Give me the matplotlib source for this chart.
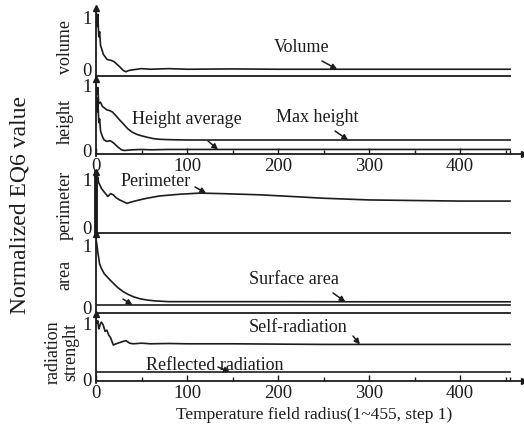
import matplotlib.pyplot as plt
import matplotlib.transforms as mtransforms

plt.rcParams['font.family'] = ['Liberation Serif', 'DejaVu Serif']

# radius samples and normalized values for every curve
vol_x = [0, 1, 2, 3, 4, 5, 6, 8, 10, 12, 14, 17, 20, 23, 26, 30, 33, 36, 40, 45,
         50, 60, 80, 100, 150, 200, 250, 300, 350, 400, 455]
vol_y = [1.0, 0.78, 0.98, 0.62, 0.70, 0.48, 0.44, 0.34, 0.30, 0.26, 0.25, 0.24,
         0.22, 0.18, 0.14, 0.08, 0.06, 0.08, 0.09, 0.10, 0.11, 0.10, 0.11, 0.10,
         0.105, 0.10, 0.10, 0.10, 0.10, 0.10, 0.10]

maxh_x = [0, 1, 2, 3, 5, 7, 9, 12, 15, 18, 21, 25, 30, 35, 40, 45, 50, 56, 63,
          70, 80, 100, 150, 200, 300, 400, 455]
maxh_y = [1.0, 0.85, 0.95, 0.72, 0.74, 0.68, 0.66, 0.63, 0.62, 0.60, 0.56, 0.50,
          0.43, 0.36, 0.31, 0.28, 0.26, 0.24, 0.22, 0.21, 0.205, 0.20, 0.20,
          0.20, 0.20, 0.20, 0.20]

avgh_x = [0, 1, 2, 3, 4, 5, 7, 9, 12, 15, 17, 20, 24, 28, 31, 35, 40, 50, 60,
          80, 100, 200, 300, 400, 455]
avgh_y = [0.95, 0.60, 0.80, 0.45, 0.50, 0.33, 0.25, 0.20, 0.18, 0.19, 0.18, 0.15,
          0.10, 0.06, 0.05, 0.055, 0.06, 0.065, 0.06, 0.065, 0.065, 0.065,
          0.065, 0.065, 0.065]

per_x = [0, 1, 2, 3, 4, 6, 8, 10, 13, 16, 19, 22, 26, 30, 34, 38, 45, 56, 70, 92,
         114, 140, 180, 216, 250, 300, 350, 400, 455]
per_y = [1.0, 0.95, 0.98, 0.88, 0.85, 0.78, 0.74, 0.70, 0.64, 0.69, 0.67, 0.62,
         0.58, 0.55, 0.52, 0.54, 0.57, 0.61, 0.65, 0.68, 0.70, 0.69, 0.67, 0.64,
         0.61, 0.58, 0.57, 0.56, 0.56]

area_x = [0, 1, 2, 3, 4, 6, 9, 12, 15, 19, 24, 30, 35, 41, 48, 56, 65, 80, 100,
          200, 300, 400, 455]
area_y = [1.0, 0.92, 0.82, 0.74, 0.66, 0.60, 0.53, 0.49, 0.45, 0.40, 0.34, 0.285,
          0.25, 0.217, 0.19, 0.172, 0.16, 0.15, 0.15, 0.15, 0.148, 0.148, 0.148]
area2_x = [0, 455]
area2_y = [0.105, 0.105]

self_x = [0, 1, 2, 3, 4, 5, 6, 8, 10, 12, 14, 16, 19, 22, 26, 30, 33, 37, 41, 50,
          60, 80, 100, 150, 200, 250, 300, 400, 455]
self_y = [1.0, 0.93, 0.97, 0.84, 0.88, 0.93, 0.95, 0.90, 0.80, 0.82, 0.74, 0.70,
          0.58, 0.60, 0.62, 0.64, 0.65, 0.61, 0.60, 0.61, 0.60, 0.605, 0.60,
          0.60, 0.595, 0.59, 0.59, 0.59, 0.59]
refl_x = [0, 455]
refl_y = [0.145, 0.145]

major_ticks = [0, 100, 200, 300, 400]
minor_ticks = [50, 150, 250, 350, 450, 455]

W, H = 524, 428
ink = '#1c1c1c'
fig = plt.figure(figsize=(W / 100, H / 100), dpi=100)


def panel(top, zero, one, lab0, lab1, with_axis):
    # pixel rows (from the top): arrow tip, value 0, value 1, and where the 0 / 1 labels sit
    scale = zero - one
    left, right = 96, 96 + 470 * 0.91
    ax = fig.add_axes([left / W, 1 - (zero + 2) / H, (right - left) / W, (zero + 2 - top) / H])
    ax.set_xlim(0, 470)
    ax.set_ylim(-2 / scale, (zero - top) / scale)
    ax.patch.set_alpha(0)
    for s in ('top', 'right'):
        ax.spines[s].set_visible(False)
    for s in ('left', 'bottom'):
        ax.spines[s].set_color(ink)
        ax.spines[s].set_linewidth(1.3)
    ax.spines['bottom'].set_position(('data', 0))
    ax.plot(0, 1, marker='^', ms=5, color=ink, transform=ax.get_xaxis_transform(), clip_on=False)

    ax.set_yticks([0, 1])
    ax.set_yticklabels(['0', '1'])
    ax.tick_params(axis='y', length=0, pad=3, labelsize=13.5, labelcolor=ink)
    for lab, dy in zip(ax.get_yticklabels(), [zero - lab0, one - lab1]):
        lab.set_transform(lab.get_transform() + mtransforms.ScaledTranslation(0, dy / 100, fig.dpi_scale_trans))

    if with_axis:
        ax.set_xticks(major_ticks)
        ax.set_xticks(minor_ticks, minor=True)
        ax.tick_params(axis='x', which='major', direction='in', length=4, width=1,
                       pad=3, labelsize=13.5, color=ink, labelcolor=ink)
        ax.tick_params(axis='x', which='minor', direction='in', length=3, width=1, color=ink)
        ax.plot(1, 0, marker='>', ms=5, color=ink, transform=ax.get_yaxis_transform(), clip_on=False)
    else:
        ax.spines['bottom'].set_bounds(0, 455)
        ax.tick_params(axis='x', bottom=False, labelbottom=False)
    return ax


lw = 1.2
ax1 = panel(8, 75.5, 13, 70, 17, False)
ax1.plot(vol_x, vol_y, color=ink, lw=lw)

ax2 = panel(79, 154, 84, 151, 86, True)
ax2.plot(maxh_x, maxh_y, color=ink, lw=lw)
ax2.plot(avgh_x, avgh_y, color=ink, lw=lw)

ax3 = panel(172, 233, 176, 228, 179, False)
ax3.spines['left'].set_linewidth(2.8)
ax3.plot(per_x, per_y, color=ink, lw=lw)

ax4 = panel(234, 312.7, 239, 308, 245, False)
ax4.plot(area_x, area_y, color=ink, lw=lw)
ax4.plot(area2_x, area2_y, color=ink, lw=lw)

ax5 = panel(314, 381, 319, 379, 324, True)
ax5.plot(self_x, self_y, color=ink, lw=lw)
ax5.plot(refl_x, refl_y, color=ink, lw=lw)


def label(ax, text, tx, ty, sx, sy, x, y):
    # text centred at pixel (tx, ty), arrow from pixel (sx, sy) to data point (x, y)
    if text:
        fig.text(tx / W, 1 - ty / H, text, ha='center', va='center', fontsize=13, color=ink)
    ax.annotate('', xy=(x, y), xytext=(sx / W, 1 - sy / H), textcoords='figure fraction',
                arrowprops=dict(arrowstyle='-|>', color=ink, lw=1.1, mutation_scale=8,
                                shrinkA=0, shrinkB=0))


label(ax1, 'Volume', 302, 47, 322, 61, 265, vol_y[-1])
label(ax2, 'Height average', 187, 120, 208, 141, 134, avgh_y[-1])
label(ax2, 'Max height', 317, 117, 335, 131, 277, maxh_y[-1])
label(ax3, 'Perimeter', 156, 182, 195, 187, 121, 0.70)
label(ax4, 'Surface area', 294, 280, 333, 293, 274, area_y[-1])
label(ax4, '', 0, 0, 123, 299, 40, area2_y[0])
label(ax5, 'Self-radiation', 298, 327, 353, 336, 290, self_y[-1])
label(ax5, 'Reflected radiation', 215, 365, 218, 367, 147, refl_y[0])

# panel names and the shared labels
for name, y in [('volume', 47), ('height', 121), ('perimeter', 205), ('area', 275)]:
    fig.text(65 / W, 1 - y / H, name, rotation=90, ha='center', va='center', fontsize=13, color=ink)
fig.text(62 / W, 1 - 352 / H, 'radiation\nstrenght', rotation=90, ha='center', va='center',
         multialignment='center', linespacing=1.0, fontsize=13, color=ink)
fig.text(20 / W, 1 - 205 / H, 'Normalized EQ6 value', rotation=90, ha='center', va='center',
         fontsize=17, color=ink)
fig.text(314 / W, 1 - 415 / H, 'Temperature field radius(1~455, step 1)', ha='center', va='center',
         fontsize=12.5, color=ink)

fig.savefig('out.png', dpi=100)
